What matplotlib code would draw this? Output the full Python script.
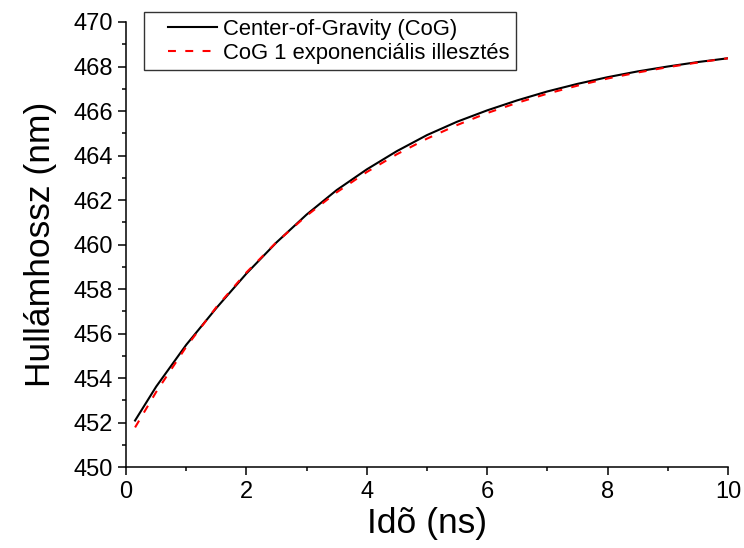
import numpy as np
import matplotlib.pyplot as plt
from matplotlib.lines import Line2D
from matplotlib.legend_handler import HandlerLine2D

plt.rcParams['font.family'] = ['Liberation Sans', 'DejaVu Sans']

# time (ns)
ido = [0.15, 0.5, 1.0, 1.5, 2.0, 2.5, 3.0, 3.5, 4.0, 4.5, 5.0,
       5.5, 6.0, 6.5, 7.0, 7.5, 8.0, 8.5, 9.0, 9.5, 10.0]
# center of gravity wavelength (nm)
cog = [452.10, 453.62, 455.50, 457.15, 458.70, 460.10, 461.35, 462.45, 463.38, 464.20, 464.92,
       465.52, 466.03, 466.48, 466.88, 467.22, 467.52, 467.78, 468.00, 468.20, 468.37]
# single exponential fit
fit = [451.79, 453.38, 455.41, 457.19, 458.75, 460.11, 461.30, 462.35, 463.26, 464.06, 464.76,
       465.37, 465.91, 466.37, 466.78, 467.14, 467.46, 467.73, 467.97, 468.18, 468.37]

fig = plt.figure(figsize=(7.44, 5.48), dpi=100)
ax = fig.add_axes([0.1694, 0.1473, 0.809, 0.8126])

ax.plot(ido, cog, color='black', lw=1.5, label='Center-of-Gravity (CoG)')
ax.plot(ido, fit, color='red', lw=1.5, ls=(0, (3.8, 4.5)), label='CoG 1 exponenciális illesztés')

ax.set_xlim(0, 10)
ax.set_ylim(450, 470)
ax.set_xticks(np.arange(0, 11, 2))
ax.set_xticks(np.arange(1, 10, 2), minor=True)
ax.set_yticks(np.arange(450, 471, 2))
ax.set_yticks(np.arange(451, 470, 2), minor=True)

for s in ['top', 'right']:
    ax.spines[s].set_visible(False)
for s in ['left', 'bottom']:
    ax.spines[s].set_linewidth(1.1)
ax.tick_params(which='major', direction='out', length=5.5, width=1.1, labelsize=17)
ax.tick_params(axis='y', which='major', pad=4)
ax.tick_params(axis='x', which='major', pad=4.5)
ax.tick_params(which='minor', direction='out', length=3, width=1.1)

ax.set_xlabel('Idõ (ns)', fontsize=25.5, labelpad=3)
ax.set_ylabel('Hullámhossz (nm)', fontsize=25.5, labelpad=12)

leg = ax.legend(loc='upper left', bbox_to_anchor=(0.03, 1.0225), fontsize=15.8,
                frameon=True, fancybox=False, edgecolor='black', handlelength=3.0,
                borderpad=0.3, labelspacing=0.15, handletextpad=0.3, borderaxespad=0,
                handler_map={Line2D: HandlerLine2D(xpad=0.8)})
leg.get_frame().set_linewidth(1.0)

fig.savefig('out.png', dpi=100)
